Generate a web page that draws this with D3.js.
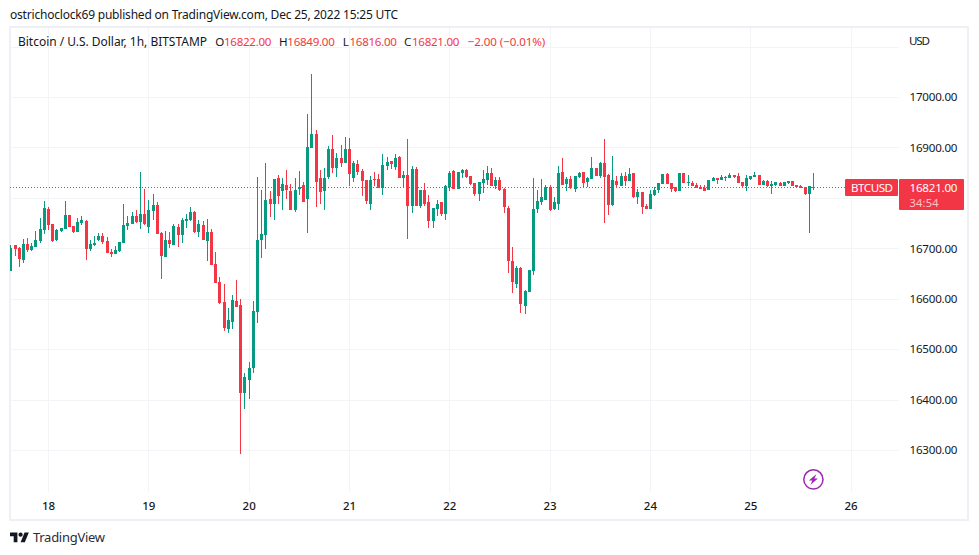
<!DOCTYPE html>
<html><head><meta charset="utf-8">
<script src="https://cdnjs.cloudflare.com/ajax/libs/d3/7.8.5/d3.min.js"></script>
<style>html,body{margin:0;padding:0;background:#fff}svg{display:block}text{font-family:"Noto Sans",sans-serif;fill:#131722}</style>
</head><body><svg id="c" width="979" height="555"></svg>
<script>
const opens=[16656,16706,16700,16677,16708,16696,16702,16714,16737,16779,
16748,16716,16734,16738,16766,16744,16732,16750,16754,16698,
16706,16716,16724,16714,16692,16688,16694,16710,16744,16748,
16764,16752,16768,16742,16775,16787,16730,16683,16716,16707,
16742,16726,16754,16756,16772,16732,16746,16714,16732,16669,
16633,16594,16540,16554,16596,16588,16414,16439,16463,16574,
16716,16726,16797,16789,16839,16813,16825,16813,16777,16817,
16825,16797,16900,16926,16839,16813,16841,16898,16859,16880,
16870,16898,16839,16868,16853,16835,16789,16837,16837,16819,
16864,16874,16862,16882,16839,16845,16785,16857,16784,16815,
16791,16754,16778,16791,16768,16821,16853,16817,16849,16855,
16843,16829,16807,16829,16835,16849,16823,16835,16817,16780,
16675,16629,16661,16586,16613,16655,16778,16791,16795,16821,
16778,16789,16851,16827,16837,16817,16841,16851,16831,16837,
16859,16843,16870,16845,16787,16833,16823,16843,16833,16849,
16801,16811,16785,16778,16805,16815,16827,16847,16829,16821,
16813,16849,16829,16829,16825,16821,16819,16815,16833,16839,
16835,16841,16839,16845,16843,16831,16823,16837,16841,16845,
16825,16833,16823,16825,16829,16823,16829,16833,16825,16823,
16821,16807,16822];
const highs=[16706,16706,16703,16719,16721,16710,16734,16760,16793,16783,
16748,16738,16740,16793,16766,16744,16760,16764,16756,16716,
16724,16730,16730,16722,16698,16704,16712,16789,16764,16772,
16777,16851,16817,16795,16807,16791,16732,16734,16732,16748,
16748,16760,16768,16782,16774,16756,16754,16758,16738,16693,
16643,16629,16582,16607,16637,16600,16453,16475,16596,16841,
16815,16870,16813,16837,16845,16839,16855,16827,16839,16853,
16831,16967,17046,16934,16855,16859,16904,16924,16890,16906,
16920,16918,16874,16876,16857,16835,16843,16851,16847,16888,
16882,16874,16888,16884,16853,16916,16863,16861,16815,16829,
16805,16780,16795,16791,16825,16853,16855,16851,16857,16857,
16843,16829,16831,16855,16863,16859,16841,16841,16819,16784,
16702,16665,16663,16617,16657,16839,16815,16837,16825,16825,
16801,16863,16880,16841,16843,16843,16851,16851,16841,16882,
16859,16872,16916,16847,16884,16843,16849,16851,16859,16849,
16817,16811,16789,16815,16821,16829,16847,16849,16829,16821,
16849,16849,16845,16833,16829,16825,16825,16835,16841,16839,
16845,16843,16849,16845,16849,16831,16845,16843,16851,16845,
16835,16835,16833,16831,16831,16831,16833,16833,16825,16825,
16821,16823,16849];
const lows=[16656,16685,16663,16671,16693,16694,16702,16711,16729,16737,
16712,16714,16732,16738,16742,16730,16732,16746,16677,16694,
16704,16714,16708,16690,16683,16688,16692,16710,16736,16748,
16750,16738,16746,16730,16756,16728,16639,16683,16700,16707,
16702,16710,16740,16754,16730,16722,16716,16675,16667,16631,
16590,16536,16532,16540,16584,16293,16382,16402,16453,16552,
16681,16699,16762,16756,16789,16776,16797,16776,16772,16805,
16791,16730,16900,16783,16789,16776,16837,16849,16841,16861,
16870,16823,16831,16845,16803,16789,16777,16823,16819,16805,
16855,16857,16855,16839,16819,16718,16770,16785,16780,16784,
16740,16740,16764,16764,16756,16813,16817,16817,16839,16839,
16825,16803,16793,16809,16825,16823,16817,16813,16770,16651,
16611,16621,16572,16570,16613,16647,16770,16787,16795,16774,
16776,16776,16825,16813,16817,16811,16839,16819,16821,16837,
16843,16839,16750,16766,16785,16819,16823,16823,16833,16799,
16789,16768,16778,16778,16803,16809,16827,16827,16811,16811,
16813,16829,16823,16823,16819,16817,16813,16815,16833,16827,
16835,16833,16839,16839,16829,16819,16813,16835,16841,16825,
16825,16821,16807,16823,16823,16823,16827,16823,16819,16819,
16805,16730,16816];
const closes=[16700,16698,16679,16708,16696,16704,16716,16738,16781,16746,
16714,16736,16740,16766,16742,16732,16752,16756,16698,16708,
16710,16724,16712,16690,16688,16696,16712,16746,16750,16764,
16752,16768,16748,16777,16787,16728,16685,16716,16708,16744,
16726,16756,16758,16772,16732,16748,16716,16732,16667,16631,
16592,16542,16558,16598,16584,16414,16445,16463,16576,16716,
16728,16795,16789,16837,16803,16827,16815,16777,16815,16821,
16791,16902,16926,16831,16811,16839,16898,16859,16880,16870,
16898,16847,16870,16851,16833,16793,16835,16835,16819,16866,
16872,16868,16880,16839,16845,16785,16857,16785,16815,16789,
16754,16780,16789,16768,16823,16849,16817,16851,16855,16841,
16827,16807,16831,16837,16849,16823,16835,16815,16782,16675,
16633,16661,16590,16615,16657,16778,16793,16801,16821,16776,
16791,16849,16825,16837,16819,16843,16849,16829,16839,16859,
16843,16870,16841,16787,16835,16825,16843,16833,16847,16801,
16811,16783,16778,16807,16815,16829,16847,16827,16817,16813,
16849,16829,16831,16823,16819,16817,16813,16835,16839,16835,
16841,16839,16845,16841,16829,16823,16839,16843,16845,16825,
16833,16823,16827,16831,16823,16831,16833,16823,16821,16819,
16807,16823,16821];
const firstHour=-9;                 // hours relative to Dec 18 00:00
const dayHours=[0,24,48,72,96,120,144,168,192];
const dayLabels=["18","19","20","21","22","23","24","25","26"];
const priceTicks=[17100,17000,16900,16800,16700,16600,16500,16400,16300];
const priceLabelTicks=[17000,16900,16700,16600,16500,16400,16300];
const lastPrice=16821;
const legendName="Bitcoin / U.S. Dollar, 1h, BITSTAMP";
const legendOHLC=[["O","16822.00"],["H","16849.00"],["L","16816.00"],["C","16821.00"]];
const legendChange="−2.00 (−0.01%)";
const titleText="ostrichoclock69 published on TradingView.com, Dec 25, 2022 15:25 UTC";

const UP="#089981",DOWN="#f23645",GRID="#f3f4f8",FRAME="#eef0f5",INK="#131722";
const svg=d3.select("#c");
const x=d3.scaleLinear().domain([0,192]).range([48.5,851.06]);
const y=d3.scaleLinear().domain([17000,16300]).range([97.5,450.5]);
const snap=v=>Math.floor(v+0.1);

// frame
svg.append("rect").attr("x",10).attr("y",27).attr("width",958).attr("height",493)
  .attr("fill","#fff").attr("stroke",FRAME).attr("stroke-width",2);

// title
svg.append("text").attr("x",10).attr("y",18.5).attr("font-size",12)
  .attr("textLength",388).attr("lengthAdjust","spacing").text(titleText);

// grid via axes
const gridX=svg.append("g").attr("transform","translate(0,492)")
  .call(d3.axisBottom(x).tickValues(dayHours).tickSize(-464).tickFormat("").offset(0));
gridX.select(".domain").remove();
gridX.selectAll("line").attr("stroke",GRID);
gridX.selectAll(".tick").attr("transform",d=>`translate(${Math.floor(x(d))+.5},0)`);

const gridY=svg.append("g").attr("transform","translate(899,0)")
  .call(d3.axisLeft(y).tickValues(priceTicks).tickSize(889).tickFormat("").offset(0));
gridY.select(".domain").remove();
gridY.selectAll("line").attr("stroke",GRID);
gridY.selectAll(".tick").attr("transform",d=>`translate(0,${Math.floor(y(d))+.5})`);

// candles
svg.append("clipPath").attr("id","pane").append("rect").attr("x",10).attr("y",28).attr("width",889).attr("height",464);
const pane=svg.append("g").attr("clip-path","url(#pane)").attr("shape-rendering","crispEdges");
const idx=d3.range(opens.length);
const col=i=>Math.floor(x(firstHour+i));
const clr=i=>closes[i]>=opens[i]?UP:DOWN;

// last price dotted line
pane.append("line").attr("x1",10).attr("x2",845)
  .attr("y1",Math.floor(y(lastPrice))+.5).attr("y2",Math.floor(y(lastPrice))+.5)
  .attr("stroke",DOWN).attr("stroke-dasharray","1 2");

pane.selectAll("rect.w").data(idx).join("rect").attr("class","w")
  .attr("x",col).attr("width",1)
  .attr("y",i=>snap(y(highs[i])))
  .attr("height",i=>Math.max(1,snap(y(lows[i]))-snap(y(highs[i]))))
  .attr("fill",clr);
pane.selectAll("rect.b").data(idx).join("rect").attr("class","b")
  .attr("x",i=>col(i)-1).attr("width",3)
  .attr("y",i=>snap(y(Math.max(opens[i],closes[i]))))
  .attr("height",i=>Math.max(1,snap(y(Math.min(opens[i],closes[i])))-snap(y(Math.max(opens[i],closes[i])))))
  .attr("fill",clr);

// legend
const lg=svg.append("g").attr("font-size",11.6);
lg.append("text").attr("x",18).attr("y",45.5).attr("font-size",12).attr("textLength",189).text(legendName);
const lgLetterX=[215.3,279,342.7,404];
const lgValueX=[224,287.3,349.5,412];
legendOHLC.forEach((d,k)=>{
  lg.append("text").attr("x",lgLetterX[k]).attr("y",45.5).text(d[0]);
  lg.append("text").attr("x",lgValueX[k]).attr("y",45.5).attr("textLength",47.5).style("fill",DOWN).text(d[1]);
});
lg.append("text").attr("x",467.7).attr("y",45.5).attr("textLength",77.6).style("fill",DOWN).text(legendChange);

// price axis
const axY=svg.append("g").attr("transform","translate(909.5,0)")
  .call(d3.axisRight(y).tickValues(priceLabelTicks).tickSize(0).tickPadding(0).tickFormat(d=>d.toFixed(2)).offset(0));
axY.select(".domain").remove();
axY.selectAll("text").attr("font-size",11.6).attr("textLength",48).attr("font-family",'"Noto Sans",sans-serif').style("fill",INK);
svg.append("text").attr("x",909).attr("y",45).attr("font-size",11.6).attr("textLength",21).text("USD");

// time axis
const axX=svg.append("g").attr("transform","translate(0,501.5)")
  .call(d3.axisBottom(x).tickValues(dayHours).tickSize(0).tickPadding(0).tickFormat((d,i)=>dayLabels[i]).offset(0));
axX.select(".domain").remove();
axX.selectAll("text").attr("font-size",11.5).attr("font-family",'"Noto Sans",sans-serif').attr("font-weight",500).style("fill",INK);

// last price labels
svg.append("rect").attr("x",845).attr("y",179).attr("width",53).attr("height",17).attr("rx",1).attr("fill",DOWN);
svg.append("text").attr("x",851).attr("y",192).attr("font-size",11.6).attr("textLength",42).style("fill","#fff").text("BTCUSD");
svg.append("rect").attr("x",899).attr("y",179).attr("width",65).attr("height",31).attr("rx",1).attr("fill",DOWN);
svg.append("text").attr("x",909.5).attr("y",192.3).attr("font-size",11.6).attr("textLength",48).style("fill","#fff").text(lastPrice.toFixed(2));
svg.append("text").attr("x",909.5).attr("y",206.7).attr("font-size",11).attr("textLength",29).style("fill","#fff").style("opacity",.7).text("34:54");

// lightning icon
const ic=svg.append("g").attr("transform","translate(813.4,479.4)");
ic.append("circle").attr("r",9.6).attr("fill","#fff").attr("stroke","#9c27b0").attr("stroke-width",1.5);
ic.append("path").attr("d","M3,-5.5 L-4.5,1 L-1,1 L-3,5.5 L4.5,-1 L1,-1 Z").attr("fill","#9c27b0");

// footer logo
const logo=svg.append("g").attr("transform","translate(10,530.5) scale(.53)").attr("fill","#131722");
logo.append("path").attr("d","M14 22H7V11H0V4h14v18zM28 22h-8l7.5-18h8L28 22z");
logo.append("circle").attr("cx",20).attr("cy",8).attr("r",4);
svg.append("text").attr("x",33).attr("y",542).attr("font-size",13).attr("textLength",72).style("fill","#2a2e39").text("TradingView");
</script></body></html>
